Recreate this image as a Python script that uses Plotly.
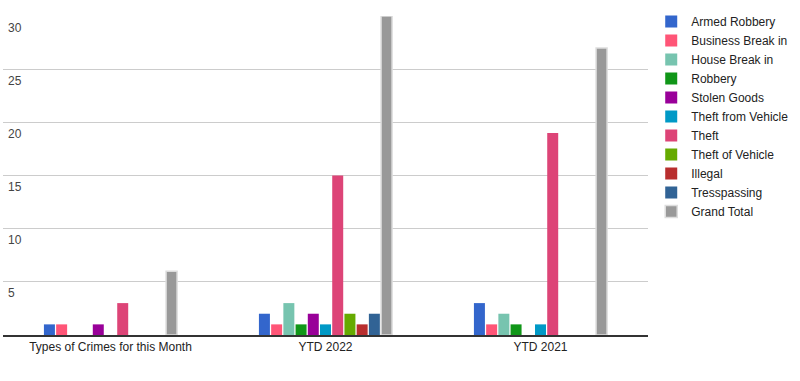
import plotly.graph_objects as go

categories = ["Types of Crimes for this Month", "YTD 2022", "YTD 2021"]
series_names = ["Armed Robbery", "Business Break in", "House Break in", "Robbery",
                "Stolen Goods", "Theft from Vehicle", "Theft", "Theft of Vehicle",
                "Illegal", "Tresspassing", "Grand Total"]
armed_robbery = [1, 2, 3]
business_break_in = [1, 1, 1]
house_break_in = [0, 3, 2]
robbery = [0, 1, 1]
stolen_goods = [1, 2, 0]
theft_from_vehicle = [0, 1, 1]
theft = [3, 15, 19]
theft_of_vehicle = [0, 2, 0]
illegal = [0, 1, 0]
tresspassing = [0, 2, 0]
grand_total = [6, 30, 27]
y_ticks = [5, 10, 15, 20, 25, 30]

values = [armed_robbery, business_break_in, house_break_in, robbery, stolen_goods,
          theft_from_vehicle, theft, theft_of_vehicle, illegal, tresspassing, grand_total]
colors = ["#3366cc", "#ff5577", "#77c4af", "#109618", "#990099", "#0099c6",
          "#dd4477", "#66aa00", "#b82e2e", "#316395", "#999999"]

fig = go.Figure()
for name, vals, c in zip(series_names, values, colors):
    line = dict(width=1.5, color="#dddddd") if name == "Grand Total" else dict(width=0)
    fig.add_trace(go.Bar(name=name, x=categories, y=vals, marker=dict(color=c, line=line)))

fig.update_layout(
    width=800, height=381,
    margin=dict(l=3, r=152, t=16, b=46, autoexpand=False),
    plot_bgcolor="white", paper_bgcolor="white",
    barmode="group", bargap=0.375, bargroupgap=0.1,
    font=dict(family="Arial, Liberation Sans, sans-serif", size=12, color="#222222"),
    legend=dict(x=1.005, y=1.028, xanchor="left", yanchor="top",
                font=dict(size=12, color="#222222"), tracegroupgap=0,
                itemwidth=30, maxheight=370),
    showlegend=True,
)
fig.update_xaxes(showline=True, linecolor="#333333", linewidth=1.5, automargin=False,
                 range=[-0.5, len(categories) - 0.5],
                 ticks="", showgrid=False, tickfont=dict(size=12))
fig.update_yaxes(range=[0, 30], tickvals=y_ticks, showgrid=True, gridcolor="#cccccc",
                 gridwidth=1, zeroline=False, ticklabelposition="inside bottom",
                 automargin=False,
                 tickfont=dict(size=12), ticklabelstandoff=2, ticklabelshift=3)
fig.write_html("out.html", config={"displayModeBar": False},
               post_script="document.body.style.margin='0px';")
